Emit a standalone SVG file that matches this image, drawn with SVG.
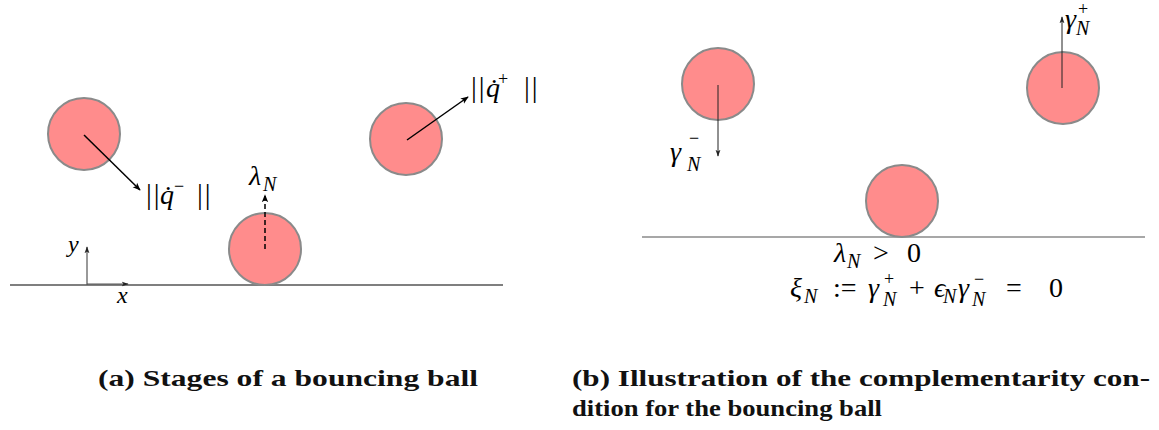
<svg xmlns="http://www.w3.org/2000/svg" width="1159" height="430" viewBox="0 0 1159 430">
<style>
text{font-family:"Liberation Serif","Times New Roman","DejaVu Serif",serif;fill:#000}
.ball{fill:#ff8c8c;stroke:#8a8a8a;stroke-width:2}
.m{font-size:28px}
.i{font-style:italic}
.sub{font-style:italic;font-size:20px}
.sup{font-size:18px}
.bars{font-size:29px;letter-spacing:2px}
.cap{font-weight:bold;font-size:23px;fill:#111}
.ground{stroke:#555;stroke-width:1.3}
.arr{stroke:#000;stroke-width:1.5;fill:none}
.thin{stroke:#222;stroke-width:1;fill:none}
</style>
<defs>
<marker id="ah" viewBox="0 0 10 10" refX="9" refY="5" markerWidth="8" markerHeight="8" markerUnits="userSpaceOnUse" orient="auto"><path d="M0,1 L10,5 L0,9 L2.5,5 Z" fill="#000"/></marker>
<marker id="ahs" viewBox="0 0 10 10" refX="9" refY="5" markerWidth="7" markerHeight="7" markerUnits="userSpaceOnUse" orient="auto"><path d="M0,1.5 L10,5 L0,8.5 L2.5,5 Z" fill="#222"/></marker>
</defs>

<line class="ground" x1="10" y1="285" x2="503" y2="285"/>
<g id="axes">
<line x1="87" y1="285" x2="87" y2="247" stroke="#555" stroke-width="1.2" marker-end="url(#ahs)"/>
<line x1="87" y1="284" x2="128" y2="284" stroke="#555" stroke-width="1.2" marker-end="url(#ahs)"/>
<text class="i" x="68" y="252" font-size="24">y</text>
<text class="i" x="117" y="303" font-size="24">x</text>
</g>
<g id="ball-a1"><circle class="ball" cx="84" cy="134" r="36"/></g>
<g id="ball-a2"><circle class="ball" cx="265" cy="249" r="36"/></g>
<g id="ball-a3"><circle class="ball" cx="406" cy="139" r="36"/></g>

<line x1="642" y1="237" x2="1145" y2="237" stroke="#8a8a8a" stroke-width="1.5"/>
<g id="ball-b1"><circle class="ball" cx="718" cy="84" r="36"/></g>
<g id="ball-b2"><circle class="ball" cx="1063" cy="88" r="36"/></g>
<g id="ball-b3"><circle class="ball" cx="902" cy="201" r="36"/></g>

<g id="connectors">
<line class="arr" x1="84" y1="135" x2="140" y2="190" marker-end="url(#ah)"/>
<line class="arr" x1="265" y1="249" x2="265" y2="195" stroke-dasharray="5,3" marker-end="url(#ah)"/>
<line class="arr" x1="407" y1="140" x2="468" y2="97" marker-end="url(#ah)"/>
<line class="thin" x1="718" y1="85" x2="718" y2="156" marker-end="url(#ahs)"/>
<line class="thin" x1="1062" y1="88" x2="1062" y2="17" marker-end="url(#ahs)"/>
</g>

<g id="labels">
<text class="bars" x="146" y="204">||</text><text class="m i" x="160" y="204">q̇</text><text class="sup" x="174" y="192">−</text><text class="bars" x="197" y="204">||</text>
<text class="m i" x="249" y="185">λ</text><text class="sub" x="263" y="191">N</text>
<text class="bars" x="471" y="97">||</text><text class="m i" x="486" y="97">q̇</text><text class="sup" x="498" y="85">+</text><text class="bars" x="524" y="97">||</text>

<text class="m i" x="670" y="161">γ</text><text class="sup" x="689" y="144">−</text><text class="sub" x="687" y="171">N</text>
<text class="m i" x="1065" y="28">γ</text><text class="sup" x="1078" y="15">+</text><text class="sub" x="1076" y="35">N</text>

<text class="m i" x="834" y="262">λ</text><text class="sub" x="847" y="268">N</text>
<text class="m" x="873" y="262">&gt;</text><text class="m" x="907" y="262">0</text>

<text class="m i" x="790" y="297">ξ</text><text class="sub" x="804" y="303">N</text>
<text class="m" x="833" y="297">:=</text>
<text class="m i" x="868" y="297">γ</text><text class="sup" x="884" y="285">+</text><text class="sub" x="883" y="306">N</text>
<text class="m" x="909" y="297">+</text>
<text class="m i" x="934" y="297">ϵ</text><text class="sub" x="943" y="303">N</text>
<text class="m i" x="958" y="297">γ</text><text class="sup" x="974" y="285">−</text><text class="sub" x="972" y="306">N</text>
<text class="m" x="1006" y="297">=</text>
<text class="m" x="1049" y="297">0</text>
</g>

<g id="captions">
<text class="cap" x="98" y="386" textLength="380" lengthAdjust="spacingAndGlyphs">(a) Stages of a bouncing ball</text>
<text class="cap" x="572" y="386" textLength="578" lengthAdjust="spacingAndGlyphs">(b) Illustration of the complementarity con-</text>
<text class="cap" x="572" y="416" textLength="310" lengthAdjust="spacingAndGlyphs">dition for the bouncing ball</text>
</g>
</svg>
